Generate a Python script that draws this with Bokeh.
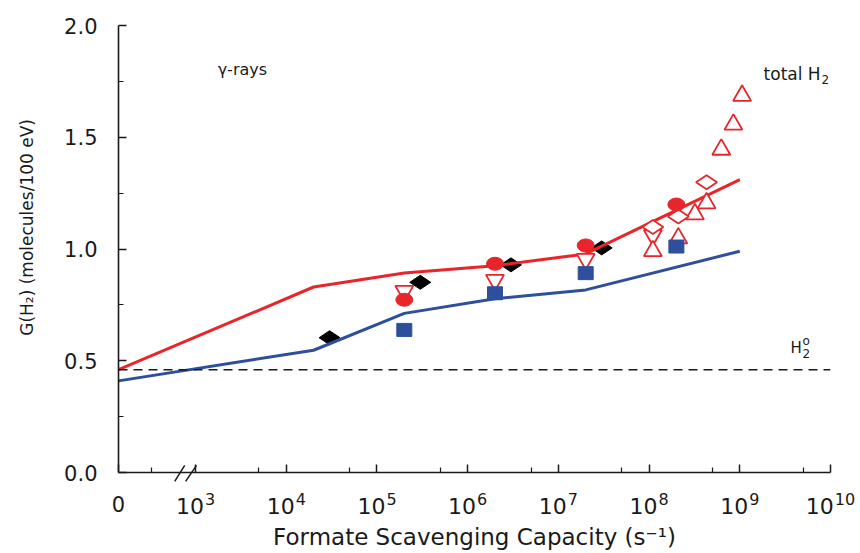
import numpy as np
from bokeh.plotting import figure
from bokeh.models import Range1d, FixedTicker, CustomJSTickFormatter, Span
from bokeh.core.properties import value
from bokeh.embed import file_html
from bokeh.resources import INLINE

FONT = "DejaVu Sans"
RED = "#e8252b"
BLUE = "#2d4f9c"
INK = "#1a1a1a"

AXIS_ZERO_LOG = 2.15  # where a capacity of 0 sits on the broken log axis

# calculated curves (capacity in s^-1)
calc_capacity = [0, 2e4, 2e5, 2e6, 2e7, 1e9]
calc_total_h2 = [0.46, 0.83, 0.893, 0.925, 0.978, 1.31]
calc_molecular_h2 = [0.41, 0.547, 0.712, 0.777, 0.817, 0.99]
h2_zero = 0.46

# measured points
black_diamond_x = [3e4, 3e5, 3e6, 3e7]
black_diamond_y = [0.603, 0.851, 0.929, 1.005]
red_circle_x = [2e5, 2e6, 2e7, 2e8]
red_circle_y = [0.773, 0.934, 1.016, 1.199]
blue_square_x = [2e5, 2e6, 2e7, 2e8]
blue_square_y = [0.638, 0.802, 0.892, 1.011]
down_tri_x = [2e5, 2e6, 2e7, 1.1e8]
down_tri_y = [0.812, 0.861, 0.955, 1.062]
up_tri_x = [1.1e8, 2.1e8, 3.2e8, 4.3e8, 6.25e8, 8.5e8, 1.06e9]
up_tri_y = [0.991, 1.048, 1.156, 1.205, 1.445, 1.557, 1.686]
open_diamond_x = [1.1e8, 2.1e8, 4.3e8]
open_diamond_y = [1.098, 1.145, 1.299]

decades = list(range(3, 11))


def pos(values):
    return [AXIS_ZERO_LOG if v == 0 else float(np.log10(v)) for v in values]


p = figure(width=860, height=553,
           x_range=Range1d(AXIS_ZERO_LOG, 10), y_range=Range1d(0, 2),
           output_backend="svg", toolbar_location=None,
           min_border_left=118, min_border_right=30,
           min_border_top=25, min_border_bottom=81)
p.outline_line_color = None
p.grid.visible = False
p.background_fill_color = "white"
p.border_fill_color = "white"

# axes
for ax in (p.xaxis[0], p.yaxis[0]):
    ax.axis_line_width = 1.6
    ax.axis_line_color = INK
    ax.major_tick_in = 8
    ax.major_tick_out = 0
    ax.minor_tick_in = 5
    ax.minor_tick_out = 0
    ax.major_tick_line_width = 1.5
    ax.minor_tick_line_width = 1.2
    ax.major_tick_line_color = INK
    ax.minor_tick_line_color = INK
    ax.major_label_text_font = FONT
    ax.major_label_text_font_size = "21px"
    ax.major_label_text_color = INK
    ax.axis_label_text_font = FONT
    ax.axis_label_text_font_style = "normal"
    ax.axis_label_text_color = INK

p.xaxis.ticker = FixedTicker(ticks=[AXIS_ZERO_LOG] + decades,
                             minor_ticks=[2.51] + [n + np.log10(5) for n in decades[:-1]])
p.xaxis.formatter = CustomJSTickFormatter(code="return tick < 2.9 ? '0' : '';")
p.xaxis.major_label_standoff = 23
p.xaxis.axis_label = "Formate Scavenging Capacity (s\u207b\u00b9)"
p.xaxis.axis_label_text_font_size = "23px"
p.xaxis.axis_label_standoff = 9

p.yaxis.ticker = FixedTicker(ticks=[0, 0.5, 1.0, 1.5, 2.0], minor_ticks=[0.25, 0.75, 1.25, 1.75])
p.yaxis.formatter = CustomJSTickFormatter(code="return tick.toFixed(1);")
p.yaxis.major_label_standoff = 21
p.yaxis.axis_label = "\u00a0" * 8 + "G(H\u2082) (molecules/100 eV)"
p.yaxis.axis_label_text_font_size = "17px"
p.yaxis.axis_label_standoff = 24

# decade tick labels 10^n (drawn above the frame clip so they sit under the axis)
main_w = 2 * 0.636 * 22
sup_w = [len(str(n)) * 0.636 * 16 for n in decades]
lefts = [-(main_w + 1 + w) / 2 for w in sup_w]
p.text(x=decades, y=[0] * len(decades), text=["10"] * len(decades),
       x_offset=[l + main_w for l in lefts], y_offset=33,
       text_align="right", text_baseline="alphabetic",
       text_font=value(FONT), text_font_size=value("22px"), text_color=INK,
       level="overlay")
p.text(x=decades, y=[0] * len(decades), text=[str(n) for n in decades],
       x_offset=[l + main_w + 1 for l in lefts], y_offset=26,
       text_align="left", text_baseline="alphabetic",
       text_font=value(FONT), text_font_size=value("16px"), text_color=INK,
       level="overlay")

# axis break marks
p.segment(x0=[2.77, 2.89], y0=[-0.04, -0.04], x1=[2.88, 3.01], y1=[0.032, 0.032],
          line_width=1.5, line_color=INK, level="overlay")

# H2 zero line
p.add_layout(Span(location=h2_zero, dimension="width", line_dash="9 6",
                  line_width=1.5, line_color=INK))

# measured black diamonds (under the curves)
p.scatter(pos(black_diamond_x), black_diamond_y, marker="diamond", angle=np.pi / 2,
          size=21, fill_color="black", line_color="black")

# calculated curves
p.line(pos(calc_capacity), calc_total_h2, line_color=RED, line_width=3)
p.line(pos(calc_capacity), calc_molecular_h2, line_color=BLUE, line_width=3)

# open red markers
p.scatter(pos(down_tri_x), down_tri_y, marker="inverted_triangle", size=18,
          fill_color="white", line_color=RED, line_width=1.8)
p.scatter(pos(up_tri_x), up_tri_y, marker="triangle", size=18,
          fill_color="white", line_color=RED, line_width=1.8)
p.scatter(pos(open_diamond_x), open_diamond_y, marker="diamond", angle=np.pi / 2,
          size=21, fill_color="white", line_color=RED, line_width=1.8)

# filled markers
p.rect(pos(blue_square_x), blue_square_y, width=15, height=13,
       width_units="screen", height_units="screen",
       fill_color=BLUE, line_color=BLUE)
p.ellipse(pos(red_circle_x), red_circle_y, width=17, height=13,
          width_units="screen", height_units="screen",
          fill_color=RED, line_color=RED)


# annotations
def note(x, y, text, size, dx=0, dy=0):
    p.text(x=[x], y=[y], text=[text], x_offset=dx, y_offset=dy,
           text_align="left", text_baseline="alphabetic",
           text_font=value(FONT), text_font_size=value(size), text_color=INK,
           level="overlay")


note(3.243, 1.803, "\u03b3-rays", "16px")
note(9.262, 1.781, "total H", "17px")
note(9.262, 1.781, "2", "12px", dx=58, dy=5)
note(9.56, 0.559, "H", "15px")
note(9.56, 0.559, "2", "12px", dx=12, dy=6)
note(9.56, 0.559, "o", "12px", dx=12, dy=-6.5)

open("out.html", "w").write(file_html(p, INLINE))
